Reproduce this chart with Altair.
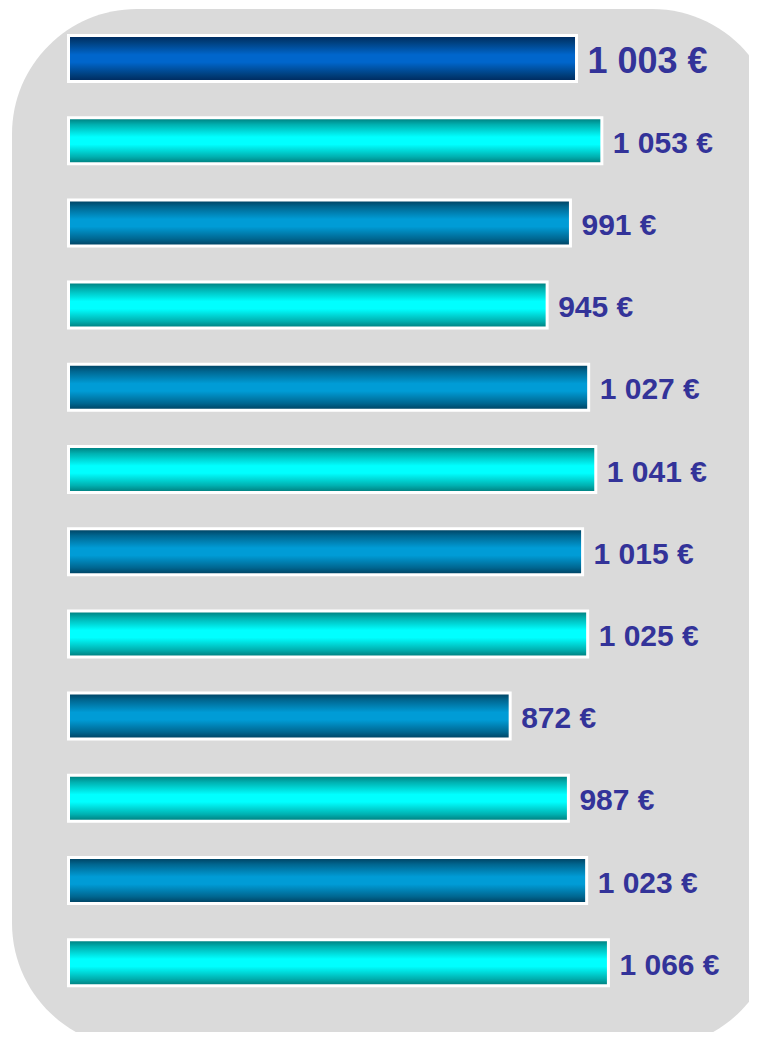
import altair as alt
import pandas as pd

# ---- data ----
categories = ["Janvier", "Février", "Mars", "Avril", "Mai", "Juin",
              "Juillet", "Août", "Septembre", "Octobre", "Novembre", "Décembre"]
values = [1003, 1053, 991, 945, 1027, 1041, 1015, 1025, 872, 987, 1023, 1066]
series = ["highlight", "cyan", "blue", "cyan", "blue", "cyan",
          "blue", "cyan", "blue", "cyan", "blue", "cyan"]
labels = [f"{v:,}".replace(",", " ") + " €" for v in values]

df = pd.DataFrame({"cat": categories, "value": values, "series": series, "label": labels})

W, H = 741, 1024

xscale = alt.Scale(domain=[0, 1000], range=[60.5, 567], nice=False, zero=True)
yscale = alt.Scale(domain=categories, range=[9.4, 995.8], paddingInner=0.44, paddingOuter=0.22)


def grad(edge, mid1, mid):
    return alt.LinearGradient(
        gradient="linear", x1=0, x2=0, y1=0, y2=1,
        stops=[
            alt.GradientStop(offset=0, color=edge),
            alt.GradientStop(offset=0.15, color=mid1),
            alt.GradientStop(offset=0.42, color=mid),
            alt.GradientStop(offset=0.58, color=mid),
            alt.GradientStop(offset=0.85, color=mid1),
            alt.GradientStop(offset=1, color=edge),
        ],
    )


gradients = {
    "highlight": grad("#00285A", "#00407E", "#0066CC"),
    "blue": grad("#003D5C", "#006690", "#009CD6"),
    "cyan": grad("#007878", "#00B0B0", "#00FFFF"),
}

background = alt.Chart(pd.DataFrame({"k": [0]})).mark_rect(
    color="#DADADA", cornerRadius=125
).encode(
    x=alt.value(4), x2=alt.value(769), y=alt.value(1), y2=alt.value(1040)
)

base = alt.Chart(df)
X = alt.X("value:Q", scale=xscale, axis=None)
Y = alt.Y("cat:N", scale=yscale, axis=None, sort=categories)

layers = [background]
for s in ["highlight", "blue", "cyan"]:
    layers.append(
        base.transform_filter(alt.datum.series == s)
        .mark_bar(fill=gradients[s], stroke="white", strokeWidth=3)
        .encode(x=X, y=Y)
    )

text_common = dict(align="left", baseline="middle", dx=11, dy=3,
                   font="Liberation Sans", fontWeight="bold", color="#333399")
layers.append(
    base.transform_filter(alt.datum.series == "highlight")
    .mark_text(fontSize=36, **text_common)
    .encode(x=X, y=Y, text="label:N")
)
layers.append(
    base.transform_filter(alt.datum.series != "highlight")
    .mark_text(fontSize=30, **text_common)
    .encode(x=X, y=Y, text="label:N")
)

chart = alt.layer(*layers).properties(
    width=W, height=H,
    autosize=alt.AutoSizeParams(type="none"),
    padding=0,
).configure_view(stroke="transparent")

chart.save("out.html", embed_options={"renderer": "svg", "actions": False})
